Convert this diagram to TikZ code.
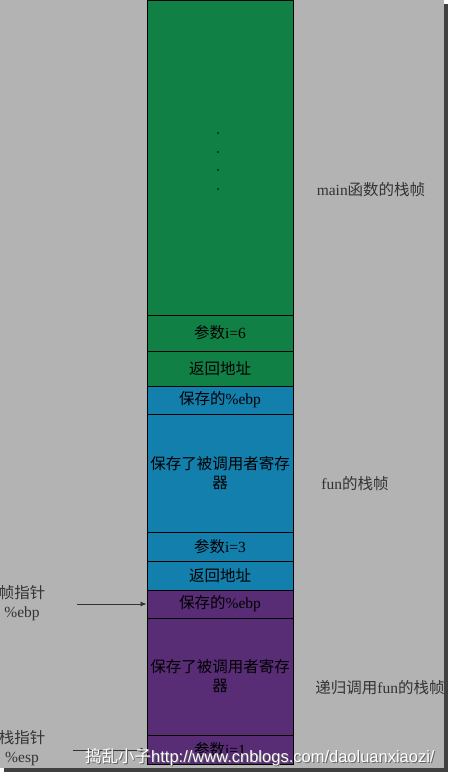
\documentclass[tikz,border=0pt]{standalone}
\usepackage{fontspec}
\setmainfont{Liberation Serif}
\newfontfamily\cjk{Noto Sans CJK SC}
\newfontfamily\wmfont{Liberation Sans}
\usetikzlibrary{arrows.meta}

\definecolor{bggray}{RGB}{179,179,179}
\definecolor{maingreen}{RGB}{17,128,69}
\definecolor{funblue}{RGB}{18,127,172}
\definecolor{recpurple}{RGB}{88,45,118}

\tikzset{
	cell/.style={draw=black, line width=1pt, minimum width=146pt, inner sep=0pt,
		align=center, font=\fontsize{15.5pt}{19pt}\selectfont},
	side/.style={font=\fontsize{15.5pt}{19pt}\selectfont, text=black!80},
	ptr/.style={-{Latex[length=6pt,width=5pt]}, line width=0.8pt, draw=black!80}
}

\begin{document}
\begin{tikzpicture}[x=1pt, y=-1pt]

	\useasboundingbox (0,0) rectangle (449,772);
	\fill[black!75] (4,4) rectangle (448,772);
	\fill[bggray] (0,0) rectangle (444,768);

	\node[cell, fill=maingreen, minimum height=315pt] (mainbody) at (220,158) {};
	\node[cell, fill=maingreen, minimum height=36pt] (argsix) at (220,333) {{\cjk 参数}i=6};
	\node[cell, fill=maingreen, minimum height=35pt] (retmain) at (220,368.5) {\cjk 返回地址};
	\node[cell, fill=funblue, minimum height=28pt] (ebpfun) at (220,400) {{\cjk 保存的}\%ebp};
	\node[cell, fill=funblue, minimum height=118pt] (regfun) at (220,473) {\cjk 保存了被调用者寄存\\\cjk 器};
	\node[cell, fill=funblue, minimum height=29pt] (argthree) at (220,546.5) {{\cjk 参数}i=3};
	\node[cell, fill=funblue, minimum height=29pt] (retfun) at (220,575.5) {\cjk 返回地址};
	\node[cell, fill=recpurple, minimum height=28pt] (ebprec) at (220,604) {{\cjk 保存的}\%ebp};
	\node[cell, fill=recpurple, minimum height=117pt] (regrec) at (220,676.5) {\cjk 保存了被调用者寄存\\\cjk 器};
	\node[cell, fill=recpurple, minimum height=29pt] (argone) at (220,749.5) {{\cjk 参数}i=1};

	\fill (218,133) circle [radius=0.9];
	\fill (218,152) circle [radius=0.9];
	\fill (218,170) circle [radius=0.9];
	\fill (218,189) circle [radius=0.9];

	\node[side] (mainlbl) at (371,190) {main{\cjk 函数的栈帧}};
	\node[side] (funlbl) at (355,484) {fun{\cjk 的栈帧}};
	\node[side] (reclbl) at (380,688) {{\cjk 递归调用}fun{\cjk 的栈帧}};

	\node[side, align=center] (ebplbl) at (22,603) {\cjk 帧指针\\\%ebp};
	\node[side, align=center] (esplbl) at (22,748) {\cjk 栈指针\\\%esp};

	\coordinate (ebpstart) at (77,604);
	\coordinate (espstart) at (73,750);
	\draw[ptr] (ebpstart) -- (ebprec.west |- ebpstart);
	\draw[ptr] (espstart) -- (argone.west |- espstart);

	\node[anchor=base west, inner sep=0pt, text=black!60, font=\wmfont\fontsize{16.5pt}{18pt}\selectfont]
		(wmshadow) at (86,763) {{\cjk 捣乱小子}http://www.cnblogs.com/daoluanxiaozi/};
	\node[anchor=base west, inner sep=0pt, text=white, font=\wmfont\fontsize{16.5pt}{18pt}\selectfont]
		(watermark) at (85,762) {{\cjk 捣乱小子}http://www.cnblogs.com/daoluanxiaozi/};
\end{tikzpicture}
\end{document}
